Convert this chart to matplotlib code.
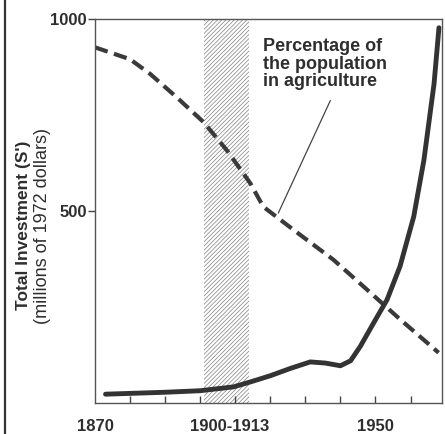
import matplotlib.pyplot as plt
from matplotlib.lines import Line2D

# --- Data ---
# Total investment (millions of 1972 dollars)
invest_years = [1873, 1890, 1900, 1909.5, 1914, 1920, 1925.7, 1931.4, 1935.7,
                1940, 1942.9, 1945.7, 1949.5, 1953.3, 1957, 1960.9, 1963.8,
                1966.7, 1968.1]
invest_values = [23, 28, 32, 42, 54, 71, 90, 107, 104,
                 97, 110, 148, 209, 269, 356, 485, 632,
                 831, 977]

# Percentage of population in agriculture (drawn on the same frame)
agri_years = [1870, 1880, 1885.7, 1893.3, 1901, 1907.6, 1914.3, 1918,
              1926.6, 1938, 1947.6, 1957, 1968]
agri_values = [926, 895, 857, 796, 731, 658, 572, 511,
               451, 373, 295, 218, 131]

tick_years = [1880, 1890, 1900, 1910, 1920, 1930, 1940, 1950, 1960]
label_positions = [1870, 1908.5, 1950]
label_texts = ["1870", "1900-1913", "1950"]
y_ticks = [500, 1000]
shade_span = (1901, 1914)

plt.rcParams['font.family'] = ['Liberation Sans', 'DejaVu Sans']
plt.rcParams['hatch.linewidth'] = 0.5
ink = '#2e2e2e'

fig = plt.figure(figsize=(4.45, 4.34), dpi=100)
ax = fig.add_axes([0.2135, 0.0714, 0.78, 0.885])

# hatched period
ax.axvspan(shade_span[0], shade_span[1], facecolor='none', edgecolor='#808080',
           hatch='////////', linewidth=0)

ax.plot(agri_years, agri_values, color='#3a3a3a', lw=3.0,
        dashes=(3.2, 1.6), solid_capstyle='butt')
ax.plot(invest_years, invest_values, color='#333333', lw=3.5,
        solid_capstyle='round')

ax.text(1918, 950, "Percentage of\nthe population\nin agriculture",
        fontsize=13, fontweight='bold', color=ink, va='top', ha='left',
        linespacing=1.05)
ax.plot([1937.1, 1922.3], [787, 495], color='#444444', lw=0.9)

ax.set_xlim(1870, 1969)
ax.set_ylim(0, 1000)

ax.set_xticks(tick_years, labels=[])
ax.tick_params(axis='x', direction='in', length=5, width=1, color='#444444')
# x labels sit under the frame (1950 coincides with a tick, so use text)
for pos, lab in zip(label_positions, label_texts):
    ax.text(pos, -0.062, lab, transform=ax.get_xaxis_transform(),
            ha='center', va='center', fontsize=12, fontweight='bold',
            color=ink)

ax.set_yticks(y_ticks, labels=[str(v) for v in y_ticks])
ax.tick_params(axis='y', direction='out', length=5, width=1, pad=1,
               labelsize=12, labelcolor=ink, color='#444444')
for t in ax.get_yticklabels():
    t.set_fontweight('bold')

for s in ax.spines.values():
    s.set_color('#555555')
    s.set_linewidth(1.0)

# two-line y label
fig.text(0.052, 0.48, "Total Investment (S')", rotation=90, fontsize=12.5,
         fontweight='bold', color=ink, ha='center', va='center')
fig.text(0.095, 0.48, "(millions of 1972 dollars)", rotation=90,
         fontsize=13, color=ink, ha='center', va='center')

# scanned page border on the left
fig.add_artist(Line2D([0.011, 0.011], [0, 1], transform=fig.transFigure,
                      color='#333333', lw=1.6))

fig.savefig('out.png', dpi=100)
